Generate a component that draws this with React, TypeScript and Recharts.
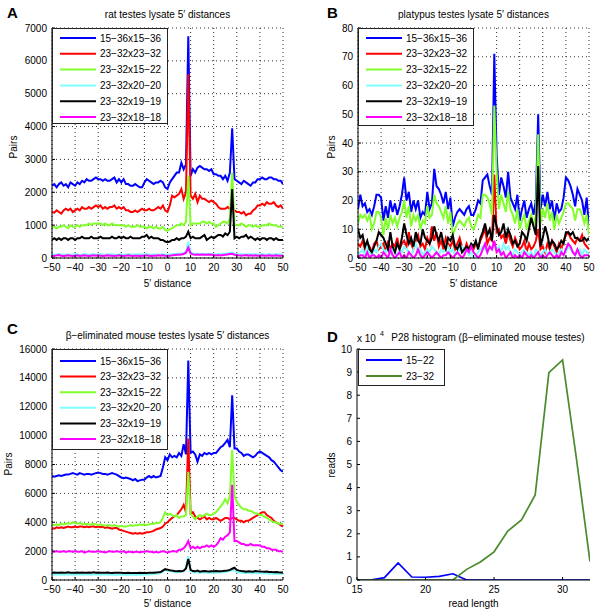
import { LineChart, Line, XAxis, YAxis, CartesianGrid } from "recharts";

const FONT = "'Liberation Sans', Arial, Helvetica, sans-serif";

// 5' distance categories (-50 .. 50)
const distances = Array.from({ length: 101 }, (_, i) => i - 50);
const distTicks = [-50, -40, -30, -20, -10, 0, 10, 20, 30, 40, 50];

const seriesNames = ["15−36x15−36", "23−32x23−32", "23−32x15−22", "23−32x20−20", "23−32x19−19", "23−32x18−18"];
const seriesColors = ["#0000ff", "#ff0000", "#80ff2a", "#80ffff", "#000000", "#ff00ff"];

// ---- A: rat testes lysate
const ratBlue = [
  2200, 2250, 2150, 2250, 2300, 2200, 2250, 2150, 2300, 2250,
  2200, 2300, 2250, 2350, 2300, 2400, 2350, 2350, 2400, 2450,
  2400, 2400, 2350, 2400, 2350, 2350, 2400, 2450, 2300, 2400,
  2300, 2400, 2250, 2250, 2200, 2200, 2250, 2200, 2150, 2150,
  2300, 2400, 2350, 2300, 2250, 2300, 2300, 2350, 2300, 2150,
  2100, 2300, 2400, 2500, 2600, 2600, 2900, 2700, 2850, 6750,
  2500, 2700, 2600, 2750, 2800, 2750, 2700, 2700, 2650, 2700,
  2550, 2550, 2500, 2500, 2400, 2500, 2350, 2600, 3950, 2400,
  2350, 2300, 2250, 2350, 2300, 2250, 2200, 2300, 2300, 2400,
  2400, 2450, 2400, 2400, 2450, 2450, 2400, 2400, 2350, 2350,
  2250,
];
const ratRed = [
  1400, 1380, 1450, 1400, 1350, 1450, 1500, 1450, 1500, 1400,
  1450, 1500, 1450, 1550, 1500, 1500, 1550, 1500, 1550, 1600,
  1550, 1600, 1500, 1550, 1500, 1550, 1550, 1600, 1500, 1550,
  1500, 1550, 1450, 1450, 1400, 1400, 1450, 1400, 1450, 1500,
  1450, 1450, 1500, 1450, 1450, 1500, 1550, 1500, 1600, 1450,
  1400, 1600, 1900, 1850, 1900, 1950, 2100, 1800, 2000, 5600,
  1900, 1800, 1950, 1700, 1900, 1800, 1800, 1750, 1700, 1750,
  1700, 1650, 1550, 1500, 1500, 1500, 1550, 1500, 1500, 1450,
  1400, 1400, 1350, 1400, 1300, 1350, 1350, 1450, 1500, 1600,
  1600, 1650, 1600, 1700, 1650, 1650, 1700, 1600, 1550, 1600,
  1500,
];
const ratGreen = [
  950, 950, 900, 950, 950, 1000, 950, 900, 1000, 950,
  950, 1000, 950, 1000, 1000, 1000, 1050, 1000, 1050, 1050,
  1050, 1050, 1000, 1050, 1000, 1000, 1050, 1000, 1000, 1000,
  1000, 1000, 950, 1000, 950, 950, 950, 1000, 950, 950,
  950, 900, 950, 950, 900, 950, 900, 900, 950, 850,
  830, 880, 900, 950, 1000, 1000, 1050, 1000, 1100, 2500,
  1000, 1050, 1050, 1050, 1050, 1100, 1100, 1050, 1100, 1050,
  1050, 950, 1000, 1050, 1100, 1100, 1050, 1200, 2600, 1000,
  1000, 1000, 1050, 1000, 950, 1000, 1000, 950, 1000, 950,
  950, 1000, 1000, 1000, 1050, 1000, 1000, 1000, 950, 950,
  950,
];
const ratCyan = [
  110, 100, 110, 120, 100, 110, 100, 110, 100, 110,
  120, 110, 100, 110, 120, 110, 100, 110, 120, 110,
  110, 120, 110, 100, 110, 120, 110, 110, 100, 110,
  110, 100, 110, 120, 110, 100, 110, 110, 120, 110,
  110, 120, 110, 100, 110, 110, 100, 110, 120, 100,
  100, 110, 120, 120, 130, 130, 140, 150, 200, 500,
  180, 140, 130, 130, 120, 130, 120, 120, 130, 120,
  120, 110, 120, 120, 130, 130, 140, 160, 170, 130,
  120, 110, 120, 110, 110, 120, 110, 110, 120, 110,
  110, 120, 110, 110, 120, 110, 110, 120, 110, 110,
  110,
];
const ratBlack = [
  550, 600, 550, 600, 550, 600, 600, 550, 600, 600,
  550, 600, 600, 650, 600, 600, 600, 650, 600, 600,
  600, 650, 600, 600, 600, 600, 650, 600, 600, 650,
  600, 650, 600, 600, 650, 600, 600, 600, 600, 650,
  650, 700, 600, 650, 600, 600, 600, 550, 550, 500,
  480, 500, 550, 550, 600, 550, 600, 600, 650, 800,
  600, 650, 600, 600, 600, 650, 700, 550, 600, 650,
  600, 650, 700, 700, 650, 750, 700, 800, 2100, 600,
  650, 600, 650, 650, 700, 600, 650, 600, 550, 600,
  550, 600, 600, 550, 600, 600, 550, 600, 550, 550,
  550,
];
const ratMagenta = [
  70, 60, 80, 90, 70, 60, 70, 80, 70, 60,
  70, 80, 60, 70, 80, 70, 60, 70, 80, 70,
  80, 70, 60, 70, 80, 70, 70, 60, 70, 80,
  70, 60, 70, 80, 70, 60, 70, 70, 60, 70,
  70, 80, 70, 60, 70, 70, 80, 70, 80, 70,
  60, 70, 80, 90, 100, 100, 110, 120, 160, 320,
  140, 110, 100, 110, 100, 110, 100, 100, 110, 100,
  90, 80, 90, 80, 90, 100, 110, 120, 130, 100,
  90, 80, 70, 80, 90, 70, 80, 70, 80, 70,
  70, 80, 70, 70, 80, 70, 70, 80, 70, 70,
  70,
];

// ---- B: platypus testes lysate
const platBlue = [
  17, 22, 18, 19, 16, 17, 15, 18, 22, 22,
  21, 13, 18, 14, 20, 16, 19, 15, 18, 22,
  28, 20, 23, 16, 20, 17, 20, 14, 16, 15,
  23, 17, 19, 31, 25, 24, 22, 19, 23, 17,
  21, 11, 14, 16, 17, 16, 15, 17, 18, 15,
  15, 17, 20, 19, 27, 28, 29, 25, 22, 71,
  36, 22, 28, 25, 21, 30, 21, 19, 17, 22,
  13, 17, 20, 14, 17, 19, 15, 20, 50, 17,
  22, 18, 23, 17, 20, 13, 19, 16, 17, 21,
  28, 27, 25, 22, 18, 24, 22, 20, 15, 21,
  10,
];
const platRed = [
  5, 4, 6, 3, 5, 4, 2, 5, 6, 3,
  4, 5, 2, 6, 3, 5, 4, 7, 3, 5,
  6, 4, 9, 5, 3, 6, 8, 4, 5, 3,
  7, 5, 11, 6, 9, 4, 6, 3, 7, 5,
  4, 6, 3, 5, 7, 4, 2, 5, 3, 4,
  3, 5, 4, 6, 8, 10, 5, 7, 6, 29,
  9, 10, 7, 8, 5, 9, 6, 4, 7, 5,
  3, 4, 6, 2, 5, 3, 4, 6, 10, 3,
  4, 2, 5, 3, 6, 4, 2, 5, 3, 6,
  8, 9, 7, 6, 5, 7, 6, 8, 5, 4,
  3,
];
const platGreen = [
  12, 15, 14, 15, 13, 15, 10, 12, 16, 16,
  14, 8, 14, 10, 15, 12, 14, 11, 14, 16,
  20, 14, 18, 11, 15, 13, 15, 10, 13, 12,
  18, 14, 15, 22, 19, 18, 16, 14, 18, 12,
  16, 8, 10, 12, 13, 12, 11, 13, 14, 11,
  10, 12, 15, 14, 22, 22, 21, 19, 15, 53,
  30, 17, 22, 19, 16, 23, 17, 15, 12, 17,
  10, 13, 15, 10, 13, 15, 11, 15, 43, 12,
  17, 14, 19, 13, 16, 10, 15, 12, 14, 16,
  19, 19, 18, 17, 13, 17, 17, 15, 12, 15,
  8,
];
const platCyan = [
  1, 2, 3, 1, 4, 2, 1, 3, 2, 4,
  5, 3, 2, 4, 1, 3, 2, 1, 3, 2,
  4, 3, 2, 1, 3, 5, 2, 3, 1, 2,
  3, 2, 4, 3, 2, 1, 3, 2, 3, 4,
  2, 3, 1, 2, 3, 4, 2, 3, 1, 2,
  0, 1, 2, 3, 4, 3, 2, 4, 3, 5,
  3, 4, 2, 5, 3, 4, 2, 1, 3, 2,
  1, 2, 3, 2, 1, 2, 0, 3, 2, 1,
  2, 3, 1, 2, 3, 2, 1, 2, 3, 1,
  2, 4, 3, 2, 1, 2, 3, 1, 3, 2,
  1,
];
const platBlack = [
  10, 7, 8, 4, 6, 3, 2, 4, 6, 9,
  8, 7, 5, 3, 9, 4, 2, 5, 3, 7,
  12, 8, 5, 7, 4, 9, 6, 5, 10, 7,
  6, 5, 7, 11, 8, 6, 9, 5, 3, 7,
  6, 8, 4, 3, 5, 2, 3, 4, 3, 5,
  4, 6, 3, 7, 9, 12, 8, 10, 6, 15,
  11, 8, 9, 12, 7, 10, 8, 5, 6, 4,
  5, 9, 8, 6, 10, 14, 11, 8, 32, 4,
  7, 11, 8, 4, 6, 5, 3, 4, 6, 5,
  9, 9, 8, 9, 7, 7, 6, 6, 7, 6,
  7,
];
const platMagenta = [
  0, 1, 1, 0, 2, 0, 1, 1, 0, 1,
  0, 2, 1, 0, 3, 1, 0, 1, 2, 0,
  1, 0, 2, 1, 0, 1, 3, 1, 0, 1,
  2, 1, 0, 1, 2, 1, 0, 1, 1, 2,
  1, 0, 1, 2, 1, 0, 1, 3, 2, 4,
  2, 1, 0, 1, 3, 5, 2, 4, 3, 6,
  2, 3, 1, 2, 0, 1, 2, 0, 1, 0,
  1, 0, 2, 1, 0, 1, 0, 1, 2, 0,
  1, 0, 1, 2, 1, 0, 1, 0, 2, 1,
  3, 5, 4, 2, 1, 3, 1, 0, 1, 1,
  1,
];

// ---- C: beta-eliminated mouse testes lysate
const mouseBlue = [
  7200, 7150, 7200, 7250, 7200, 7250, 7300, 7300, 7350, 7400,
  7350, 7300, 7400, 7350, 7300, 7350, 7350, 7300, 7350, 7400,
  7450, 7400, 7350, 7350, 7300, 7350, 7400, 7350, 7300, 7200,
  7100, 7050, 7100, 7050, 7000, 6900, 7000, 6850, 6900, 6950,
  6950, 7100, 7200, 7100, 7200, 7100, 7150, 7200, 7800, 8500,
  8300, 8700, 8500, 8600, 8500, 8800, 8600, 9400, 8700, 15200,
  8800, 8900, 8700, 8200, 8700, 8600, 8800, 8700, 8800, 8700,
  8800, 8800, 9000, 9200, 9300, 9500, 9700, 9200, 12800, 9100,
  9100, 8900, 8800, 8600, 8700, 8700, 8600, 8500, 8600, 8800,
  8900, 8800, 8700, 8600, 8500, 8300, 8200, 8000, 7800, 7600,
  7500,
];
const mouseRed = [
  3600, 3550, 3650, 3600, 3650, 3600, 3650, 3700, 3650, 3650,
  3700, 3650, 3700, 3700, 3650, 3700, 3650, 3700, 3700, 3650,
  3700, 3650, 3700, 3600, 3650, 3600, 3550, 3600, 3600, 3500,
  3450, 3400, 3350, 3300, 3250, 3200, 3250, 3200, 3250, 3200,
  3250, 3300, 3300, 3350, 3400, 3500, 3550, 3600, 3700, 3900,
  4000, 4150, 4300, 4400, 4500, 4700, 4900, 5200, 4700, 9800,
  4600, 4700, 4400, 4300, 4200, 4300, 4400, 4200, 4300, 4200,
  4200, 4300, 4200, 4100, 4200, 4300, 4300, 4200, 4300, 4300,
  4200, 4100, 4100, 4000, 4100, 4100, 4200, 4300, 4400, 4500,
  4600, 4700, 4700, 4500, 4400, 4300, 4100, 4000, 3900, 3800,
  3700,
];
const mouseGreen = [
  3850, 3800, 3850, 3800, 3900, 3850, 3900, 3950, 3900, 4000,
  3950, 3900, 3950, 3900, 3850, 3900, 3850, 3850, 3900, 3850,
  3800, 3850, 3800, 3750, 3800, 3800, 3750, 3800, 3750, 3700,
  3750, 3700, 3700, 3750, 3800, 3750, 3800, 3800, 3850, 3800,
  3850, 3800, 3850, 3900, 3900, 3950, 3950, 4000, 4300, 4700,
  4500, 4600, 4500, 4400, 4500, 4300, 4400, 4400, 4500, 7500,
  4600, 4400, 4200, 4400, 4500, 4400, 4500, 4600, 4500, 4500,
  4600, 4700, 4900, 5100, 5300, 5600, 5300, 5800, 9000, 5800,
  5400, 5200, 5000, 4900, 4900, 4800, 4800, 4700, 4600, 4600,
  4500, 4500, 4400, 4300, 4200, 4100, 4000, 4000, 3900, 3900,
  3900,
];
const mouseCyan = [
  380, 370, 380, 390, 380, 370, 380, 390, 380, 370,
  380, 390, 380, 370, 380, 390, 380, 370, 380, 390,
  380, 370, 380, 390, 380, 370, 380, 370, 380, 370,
  370, 360, 370, 380, 370, 360, 370, 380, 370, 380,
  380, 390, 380, 400, 420, 430, 450, 480, 600, 700,
  650, 620, 580, 560, 540, 560, 570, 600, 900, 1650,
  600, 550, 520, 530, 510, 520, 530, 510, 500, 520,
  510, 520, 510, 530, 540, 560, 590, 620, 700, 650,
  560, 520, 500, 490, 480, 490, 480, 470, 480, 470,
  460, 470, 460, 450, 440, 430, 440, 430, 420, 410,
  410,
];
const mouseBlack = [
  500, 520, 500, 510, 520, 500, 510, 530, 510, 500,
  510, 520, 500, 520, 510, 500, 520, 510, 530, 510,
  520, 510, 500, 510, 520, 500, 490, 500, 510, 500,
  500, 490, 480, 500, 490, 480, 490, 480, 500, 490,
  500, 490, 500, 510, 500, 520, 530, 550, 650, 750,
  720, 680, 650, 620, 600, 620, 600, 650, 800, 1450,
  700, 620, 600, 650, 580, 600, 620, 600, 590, 610,
  600, 620, 600, 610, 620, 640, 660, 700, 780, 850,
  700, 650, 620, 600, 580, 600, 590, 580, 620, 600,
  590, 580, 570, 580, 560, 550, 540, 550, 530, 520,
  520,
];
const mouseMagenta = [
  1950, 1950, 2000, 1950, 1950, 2000, 1950, 2000, 2000, 1950,
  2000, 1950, 1950, 2000, 1900, 1950, 2000, 1950, 1950, 1950,
  2000, 1950, 1950, 1900, 1950, 2000, 1950, 1950, 2000, 1950,
  1950, 2000, 1900, 1950, 1950, 1900, 1950, 1950, 1900, 1950,
  1950, 2000, 1950, 1950, 1900, 1950, 1900, 1950, 2000, 1950,
  1900, 1950, 2000, 2000, 1950, 2100, 2100, 2200, 2400, 2700,
  2200, 2300, 2200, 2300, 2200, 2300, 2300, 2400, 2300, 2400,
  2300, 2400, 2600, 2900, 2800, 3000, 3100, 3300, 6600, 2700,
  2700, 2600, 2500, 2500, 2400, 2400, 2500, 2400, 2400, 2400,
  2400, 2300, 2300, 2200, 2200, 2100, 2100, 2100, 2000, 2000,
  1950,
];

// ---- D: P28 read length histogram
const readLengths = [15, 16, 17, 18, 19, 20, 21, 22, 23, 24, 25, 26, 27, 28, 29, 30, 31, 32];
const reads15to22 = [0, 0, 1000, 7400, 1300, 1200, 1600, 2700, 0, 0, 0, 0, 0, 0, 0, 0, 0, 0];
const reads23to32 = [0, 0, 0, 0, 0, 0, 0, 0, 4600, 7800, 12200, 21200, 26000, 36800, 89800, 95300, 53000, 8000];
const histNames = ["15−22", "23−32"];
const histColors = ["#0000ff", "#4a8a2c"];

function buildRows(xs: number[], series: number[][]) {
  return xs.map((x, i) => {
    const row: Record<string, number> = { x };
    series.forEach((s, k) => (row["s" + k] = s[i]));
    return row;
  });
}

const rowsA = buildRows(distances, [ratBlue, ratRed, ratGreen, ratCyan, ratBlack, ratMagenta]);
const rowsB = buildRows(distances, [platBlue, platRed, platGreen, platCyan, platBlack, platMagenta]);
const rowsC = buildRows(distances, [mouseBlue, mouseRed, mouseGreen, mouseCyan, mouseBlack, mouseMagenta]);
const rowsD = buildRows(readLengths, [reads15to22, reads23to32]);

const minus = (v: number) => String(v).replace("-", "\u2212");

function Panel({ left, top, width, height, margin, data, colors, xDomain, xTicks, yDomain, yTicks, yFormat, grid, lineWidth }: any) {
  const tickStyle = { fill: "#000", fontSize: 10, fontFamily: FONT };
  return (
    <div style={{ position: "absolute", left, top }}>
      <LineChart width={width} height={height} data={data} margin={margin}>
        {grid && <CartesianGrid stroke="#333" strokeDasharray="1 3" />}
        <XAxis
          dataKey="x" type="number" domain={xDomain} ticks={xTicks} interval={0} height={30}
          tickSize={-3} tickMargin={9} tick={tickStyle} tickFormatter={minus}
          axisLine={{ stroke: "#000" }} tickLine={{ stroke: "#000" }} allowDataOverflow
        />
        <XAxis xAxisId="top" dataKey="x" type="number" orientation="top" domain={xDomain} height={0} tick={false} tickLine={false} axisLine={{ stroke: "#000" }} />
        <YAxis
          type="number" domain={yDomain} ticks={yTicks} interval={0} width={44}
          tickSize={-3} tickMargin={8} tick={tickStyle} tickFormatter={yFormat}
          axisLine={{ stroke: "#000" }} tickLine={{ stroke: "#000" }} allowDataOverflow
        />
        <YAxis yAxisId="right" orientation="right" type="number" domain={yDomain} width={0} tick={false} tickLine={false} axisLine={{ stroke: "#000" }} />
        {colors.map((c: string, i: number) => (
          <Line key={i} dataKey={"s" + i} type="linear" stroke={c} strokeWidth={lineWidth} dot={false} activeDot={false} isAnimationActive={false} />
        ))}
      </LineChart>
    </div>
  );
}

function LegendBox({ x, y, w, h, names, colors, row0, step }: any) {
  return (
    <g>
      <rect x={x + 0.5} y={y + 0.5} width={w} height={h} fill="#fff" stroke="#222" strokeWidth={1} />
      {names.map((n: string, i: number) => {
        const cy = y + row0 + i * step;
        return (
          <g key={n}>
            <line x1={x + 8} x2={x + 44} y1={cy} y2={cy} stroke={colors[i]} strokeWidth={2} />
            <text x={x + 48} y={cy + 3.6} fontSize={10} fontFamily={FONT} fill="#000">{n}</text>
          </g>
        );
      })}
    </g>
  );
}

const txt = { fontFamily: FONT, fill: "#000" };

export default function App() {
  return (
    <div style={{ position: "absolute", left: 0, top: 0, width: 600, height: 614, background: "#fff", overflow: "hidden" }}>
      <Panel left={0} top={0} width={300} height={300} margin={{ top: 28, right: 17, bottom: 12, left: 8 }}
        data={rowsA} colors={seriesColors} xDomain={[-50, 50]} xTicks={distTicks}
        yDomain={[0, 7000]} yTicks={[0, 1000, 2000, 3000, 4000, 5000, 6000, 7000]} grid lineWidth={2} />
      <Panel left={300} top={0} width={300} height={300} margin={{ top: 28, right: 11, bottom: 12, left: 14 }}
        data={rowsB} colors={seriesColors} xDomain={[-50, 50]} xTicks={distTicks}
        yDomain={[0, 80]} yTicks={[0, 10, 20, 30, 40, 50, 60, 70, 80]} grid lineWidth={2} />
      <Panel left={0} top={300} width={300} height={314} margin={{ top: 49, right: 17, bottom: 4, left: 8 }}
        data={rowsC} colors={seriesColors} xDomain={[-50, 50]} xTicks={distTicks}
        yDomain={[0, 16000]} yTicks={[0, 2000, 4000, 6000, 8000, 10000, 12000, 14000, 16000]} grid lineWidth={2} />
      <Panel left={300} top={300} width={300} height={314} margin={{ top: 49, right: 10, bottom: 4, left: 13 }}
        data={rowsD} colors={histColors} xDomain={[15, 32]} xTicks={[15, 20, 25, 30]}
        yDomain={[0, 100000]} yTicks={[0, 10000, 20000, 30000, 40000, 50000, 60000, 70000, 80000, 90000, 100000]}
        yFormat={(v: number) => String(v / 10000)} grid={false} lineWidth={1.7} />

      <svg width={600} height={614} style={{ position: "absolute", left: 0, top: 0, pointerEvents: "none" }}>
        <text x={7} y={18} fontSize={15} fontWeight="bold" {...txt}>A</text>
        <text x={327} y={18} fontSize={15} fontWeight="bold" {...txt}>B</text>
        <text x={7} y={334} fontSize={15} fontWeight="bold" {...txt}>C</text>
        <text x={327} y={342} fontSize={15} fontWeight="bold" {...txt}>D</text>

        <text x={167.5} y={18} fontSize={10} textAnchor="middle" {...txt}>rat testes lysate 5′ distances</text>
        <text x={473.5} y={18} fontSize={10} textAnchor="middle" {...txt}>platypus testes lysate 5′ distances</text>
        <text x={167.5} y={339} fontSize={10} textAnchor="middle" {...txt}>β−eliminated mouse testes lysate 5′ distances</text>
        <text x={488} y={341} fontSize={10} textAnchor="middle" {...txt}>P28 histogram (β−eliminated mouse testes)</text>
        <text x={357} y={342} fontSize={10} {...txt}>x 10</text>
        <text x={380} y={336} fontSize={7} {...txt}>4</text>

        <text x={167.5} y={287} fontSize={10} textAnchor="middle" {...txt}>5′ distance</text>
        <text x={473.5} y={287} fontSize={10} textAnchor="middle" {...txt}>5′ distance</text>
        <text x={167.5} y={607} fontSize={10} textAnchor="middle" {...txt}>5′ distance</text>
        <text x={473.5} y={607} fontSize={10} textAnchor="middle" {...txt}>read length</text>

        <text x={17} y={147} fontSize={10} textAnchor="middle" transform="rotate(-90 17 147)" {...txt}>Pairs</text>
        <text x={335} y={147} fontSize={10} textAnchor="middle" transform="rotate(-90 335 147)" {...txt}>Pairs</text>
        <text x={12} y={464} fontSize={10} textAnchor="middle" transform="rotate(-90 12 464)" {...txt}>Pairs</text>
        <text x={335} y={465} fontSize={10} textAnchor="middle" transform="rotate(-90 335 465)" {...txt}>reads</text>

        <LegendBox x={52} y={28} w={115} h={95} names={seriesNames} colors={seriesColors} row0={10} step={15.8} />
        <LegendBox x={358} y={28} w={115} h={97} names={seriesNames} colors={seriesColors} row0={10} step={15.8} />
        <LegendBox x={52} y={349} w={115} h={100} names={seriesNames} colors={seriesColors} row0={12} step={15.6} />
        <LegendBox x={358} y={349} w={86} h={36} names={histNames} colors={histColors} row0={11} step={16} />
      </svg>
    </div>
  );
}
